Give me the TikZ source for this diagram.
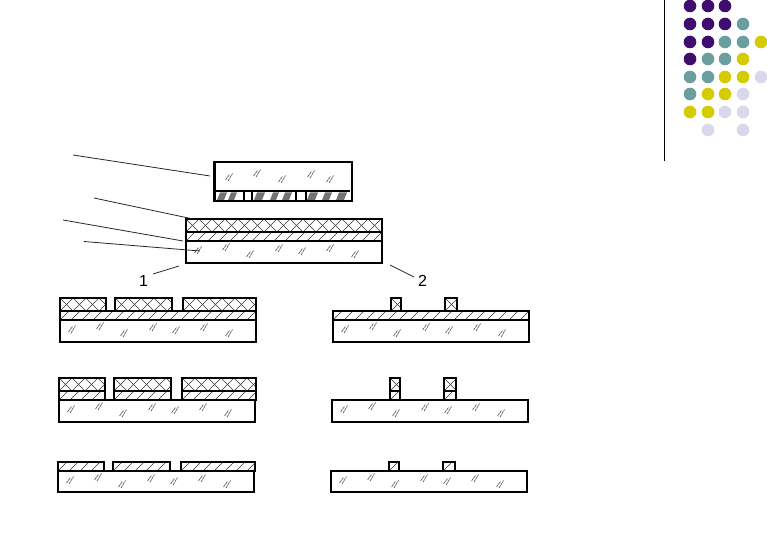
\documentclass[tikz,border=0pt]{standalone}
\usepackage{fontspec}
\setmainfont{Liberation Sans}
\usepackage{tikz}

\definecolor{dotpurple}{HTML}{3F0D6E}
\definecolor{dotteal}{HTML}{6B9E9E}
\definecolor{dotyellow}{HTML}{D4CB00}
\definecolor{dotlilac}{HTML}{D9D9EC}

\newcommand{\slashbox}[4]{%
	\begin{scope}
		\clip (#1,#2) rectangle (#3,#4);
		\foreach \k in {-22,-11,...,209}
			\draw[hatch] ({#1+\k},#4) -- ({#1+\k+#4-#2},#2);
	\end{scope}
	\draw[wall] (#1,#2) rectangle (#3,#4);
}
\newcommand{\crossbox}[4]{%
	\begin{scope}
		\clip (#1,#2) rectangle (#3,#4);
		\foreach \k in {-26,-13,...,208} {
			\draw[hatch] ({#1+\k},#4) -- ({#1+\k+#4-#2},#2);
			\draw[hatch] ({#1+\k},#2) -- ({#1+\k+#4-#2},#4);
		}
	\end{scope}
	\draw[wall] (#1,#2) rectangle (#3,#4);
}
\newcommand{\glassmark}[2]{%
	\draw[tick] ({#1-3.5},{#2+3}) -- ({#1+0.5},{#2-2.5});
	\draw[tick] ({#1-1},{#2+4}) -- ({#1+3.5},{#2-3.5});
}
\newcommand{\glassbox}[3]{%
	\draw[wall] (#1,#2) rectangle ({#1+196},#3);
	\foreach \dx/\dy in {12/9,40/6,64/13,93/7,116/10,144/7,169/13} {
		\glassmark{#1+\dx}{#2+\dy}
	}
}

\begin{document}
\begin{tikzpicture}[
		x=1pt,y=-1pt,
		wall/.style={line width=1.6pt},
		thickwall/.style={line width=2.2pt},
		hatch/.style={line width=0.6pt,black!80},
		tick/.style={line width=0.6pt,black!70,dash pattern=on 3pt off 0.6pt},
		leader/.style={line width=0.8pt,black!85},
		numlabel/.style={font=\fontsize{16}{18}\selectfont,inner sep=0pt},
		dot/.style={circle,inner sep=0pt,minimum size=12.6pt}]
		\useasboundingbox (0,0) rectangle (767,534);

		% corner dots
		\foreach \row/\cols in {6/{690/dotpurple,708/dotpurple,725/dotpurple},
				24/{690/dotpurple,708/dotpurple,725/dotpurple,743/dotteal},
				42/{690/dotpurple,708/dotpurple,725/dotteal,743/dotteal,761/dotyellow},
				59/{690/dotpurple,708/dotteal,725/dotteal,743/dotyellow},
				77/{690/dotteal,708/dotteal,725/dotyellow,743/dotyellow,761/dotlilac},
				94/{690/dotteal,708/dotyellow,725/dotyellow,743/dotlilac},
				112/{690/dotyellow,708/dotyellow,725/dotlilac,743/dotlilac},
				130/{708/dotlilac,743/dotlilac}}
			\foreach \col/\tone in \cols
				\node[dot,fill=\tone] at (\col,\row) {};
		\coordinate (ruletop) at (664.5,0);
		\coordinate (rulebottom) at (664.5,161);
		\draw[line width=1pt] (ruletop) -- (rulebottom);

		% photomask
		\draw[thickwall] (214.5,162) rectangle (352,201);
		\draw[line width=1.2pt] (216,191) -- (350,191);
		\foreach \xa/\xb in {217/227,228/237,254/265,270/279,282/292,307/318,322/332,336/347}
			\fill[black!55] (\xa,200) -- ({\xb-3},200) -- (\xb,192.5) -- ({\xa+3},192.5) -- cycle;
		\draw[line width=1.2pt] (244,191) -- (244,200) (252,191) -- (252,200)
			(296,191) -- (296,200) (306,191) -- (306,200);
		\foreach \mx/\my in {229/177,257/173,282/179,311/174,330/179} {
			\glassmark{\mx}{\my}
		}

		% full stack
		\crossbox{186}{219}{382}{232}
		\slashbox{186}{232}{382}{241}
		\glassbox{186}{241}{263}

		% left column
		\foreach \xa/\xb in {60/106,115/172,183/256} {
			\crossbox{\xa}{298}{\xb}{311}
		}
		\slashbox{60}{311}{256}{320}
		\glassbox{60}{320}{342}

		\foreach \xa/\xb in {59/105,114/171,182/256} {
			\crossbox{\xa}{378}{\xb}{391}
			\slashbox{\xa}{391}{\xb}{400}
		}
		\glassbox{59}{400}{422}

		\foreach \xa/\xb in {58/104,113/170,181/255} {
			\slashbox{\xa}{462}{\xb}{471}
		}
		\glassbox{58}{471}{492}

		% right column
		\foreach \xa/\xb in {391/401,445/457} {
			\crossbox{\xa}{298}{\xb}{311}
		}
		\slashbox{333}{311}{529}{320}
		\glassbox{333}{320}{342}

		\foreach \xa/\xb in {390/400,444/456} {
			\crossbox{\xa}{378}{\xb}{391}
			\slashbox{\xa}{391}{\xb}{400}
		}
		\glassbox{332}{400}{422}

		\foreach \xa/\xb in {389/399,443/455} {
			\slashbox{\xa}{462}{\xb}{471}
		}
		\glassbox{331}{471}{492}

		% leaders
		\coordinate (maskfree) at (73,155);
		\coordinate (maskend) at (210,176);
		\coordinate (resistfree) at (94,198);
		\coordinate (resistend) at (193,219);
		\coordinate (filmfree) at (63,220);
		\coordinate (filmend) at (183,241);
		\coordinate (glassfree) at (84,241.5);
		\coordinate (glassend) at (200,251);
		\draw[leader] (maskfree) -- (maskend);
		\draw[leader] (resistfree) -- (resistend);
		\draw[leader] (filmfree) -- (filmend);
		\draw[leader] (glassfree) -- (glassend);

		\node[numlabel] (one) at (143.5,281) {1};
		\node[numlabel] (two) at (422.5,281) {2};
		\coordinate (oneend) at (179,266);
		\coordinate (twoend) at (390,265);
		\draw[leader] (one) ++(9.5,-7) -- (oneend);
		\draw[leader] (two) ++(-8.5,-4) -- (twoend);
\end{tikzpicture}
\end{document}
